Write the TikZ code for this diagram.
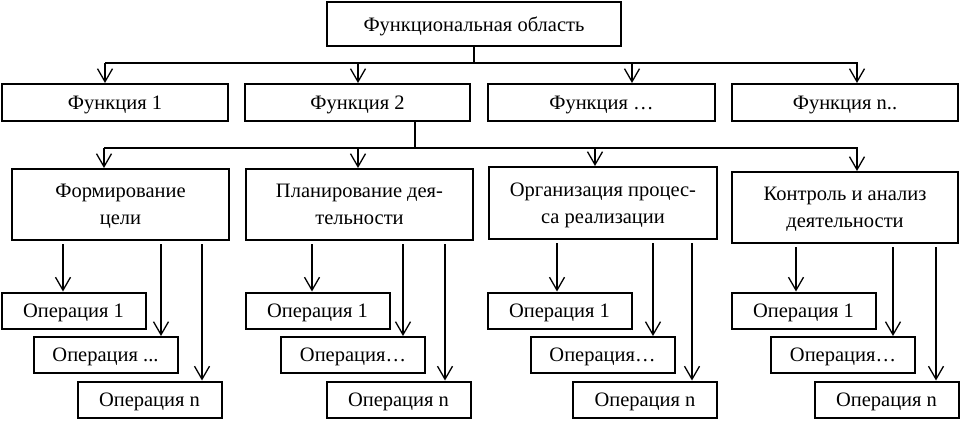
\documentclass[tikz,border=0pt]{standalone}
\usepackage{fontspec}
\setmainfont{Liberation Serif}
\usetikzlibrary{arrows.meta}

\tikzset{
  box/.style={draw, line width=2pt, inner sep=0pt, align=center, text depth=0pt, font=\fontsize{20.5}{27}\selectfont},
  opbox/.style={box, minimum width=144pt, minimum height=36pt},
}

\begin{document}
\begin{tikzpicture}[x=1pt,y=-1pt,line width=1.3pt,-{Straight Barb[length=13pt,width=15pt]}]
\useasboundingbox (0,0) rectangle (960,420);

\draw[-] (474,24) node[box,minimum width=294pt,minimum height=44pt](FO) {Функциональная область};

\draw[-] (115,102.5) node[box,minimum width=226pt,minimum height=37pt](F1) {Функция 1};
\draw[-] (357.5,102.5) node[box,minimum width=225pt,minimum height=37pt](F2) {Функция 2};
\draw[-] (601.5,102.5) node[box,minimum width=227pt,minimum height=37pt](F3) {Функция …};
\draw[-] (845,102.5) node[box,minimum width=226pt,minimum height=37pt](F4) {Функция n..};

\draw[-] (120.5,204.5) node[box,minimum width=217pt,minimum height=71pt](A1) {Формирование\\цели};
\draw[-] (359.5,204.5) node[box,minimum width=227pt,minimum height=71pt](A2) {Планирование дея-\\тельности};
\draw[-] (603,203) node[box,minimum width=228pt,minimum height=72pt](A3) {Организация процес-\\са реализации};
\draw[-] (845,207.5) node[box,minimum width=226pt,minimum height=71pt](A4) {Контроль и анализ\\деятельности};

\draw[-] (73.5,310.5) node[opbox](O11) {Операция 1};
\draw[-] (105.5,355) node[opbox](O12) {Операция ...};
\draw[-] (149.5,399.5) node[opbox](O13) {Операция n};

\draw[-] (317.5,310.5) node[opbox](O21) {Операция 1};
\draw[-] (353,355) node[opbox](O22) {Операция…};
\draw[-] (398.5,399.5) node[opbox](O23) {Операция n};

\draw[-] (559.5,310.5) node[opbox](O31) {Операция 1};
\draw[-] (602.5,355) node[opbox](O32) {Операция…};
\draw[-] (645,399.5) node[opbox](O33) {Операция n};

\draw[-] (803.5,310.5) node[opbox](O41) {Операция 1};
\draw[-] (843,355) node[opbox](O42) {Операция…};
\draw[-] (886.5,399.5) node[opbox](O43) {Операция n};

\coordinate (bus1) at (0,63);
\coordinate (bus2) at (0,148);

% functional area to functions
\draw[-] (FO.south) -- (FO.south |- bus1);
\draw[-] ([xshift=-10pt]F1.north |- bus1) -- ([xshift=13pt]F4.north |- bus1);
\draw ([xshift=-10pt]F1.north |- bus1) -- ([xshift=-10pt]F1.north);
\draw ([xshift=0.5pt]F2.north |- bus1) -- ([xshift=0.5pt]F2.north);
\draw ([xshift=30.5pt]F3.north |- bus1) -- ([xshift=30.5pt]F3.north);
\draw ([xshift=12pt]F4.north |- bus1) -- ([xshift=12pt]F4.north);

% function 2 to stages
\draw[-] ([xshift=57.5pt]F2.south) -- ([xshift=57.5pt]F2.south |- bus2);
\draw[-] ([xshift=-16.5pt]A1.north |- bus2) -- ([xshift=13pt]A4.north |- bus2);
\draw ([xshift=-16.5pt]A1.north |- bus2) -- ([xshift=-16.5pt]A1.north);
\draw ([xshift=-1.5pt]A2.north |- bus2) -- ([xshift=-1.5pt]A2.north);
\draw ([xshift=-8pt]A3.north |- bus2) -- ([xshift=-8pt]A3.north);
\draw ([xshift=12pt]A4.north |- bus2) -- ([xshift=12pt]A4.north);

% stages to operations
\draw[shorten <=3pt] ([xshift=-57.5pt]A1.south) -- ([xshift=-57.5pt]A1.south |- O11.north);
\draw[shorten <=3pt] ([xshift=40.5pt]A1.south) -- ([xshift=40.5pt]A1.south |- O12.north);
\draw[shorten <=3pt] ([xshift=81.5pt]A1.south) -- ([xshift=81.5pt]A1.south |- O13.north);

\draw[shorten <=3pt] ([xshift=-47.5pt]A2.south) -- ([xshift=-47.5pt]A2.south |- O21.north);
\draw[shorten <=3pt] ([xshift=43.5pt]A2.south) -- ([xshift=43.5pt]A2.south |- O22.north);
\draw[shorten <=3pt] ([xshift=85.5pt]A2.south) -- ([xshift=85.5pt]A2.south |- O23.north);

\draw[shorten <=3pt] ([xshift=-46pt]A3.south) -- ([xshift=-46pt]A3.south |- O31.north);
\draw[shorten <=3pt] ([xshift=50pt]A3.south) -- ([xshift=50pt]A3.south |- O32.north);
\draw[shorten <=3pt] ([xshift=89pt]A3.south) -- ([xshift=89pt]A3.south |- O33.north);

\draw[shorten <=3pt] ([xshift=-49pt]A4.south) -- ([xshift=-49pt]A4.south |- O41.north);
\draw[shorten <=3pt] ([xshift=48pt]A4.south) -- ([xshift=48pt]A4.south |- O42.north);
\draw[shorten <=3pt] ([xshift=91pt]A4.south) -- ([xshift=91pt]A4.south |- O43.north);

\end{tikzpicture}
\end{document}
